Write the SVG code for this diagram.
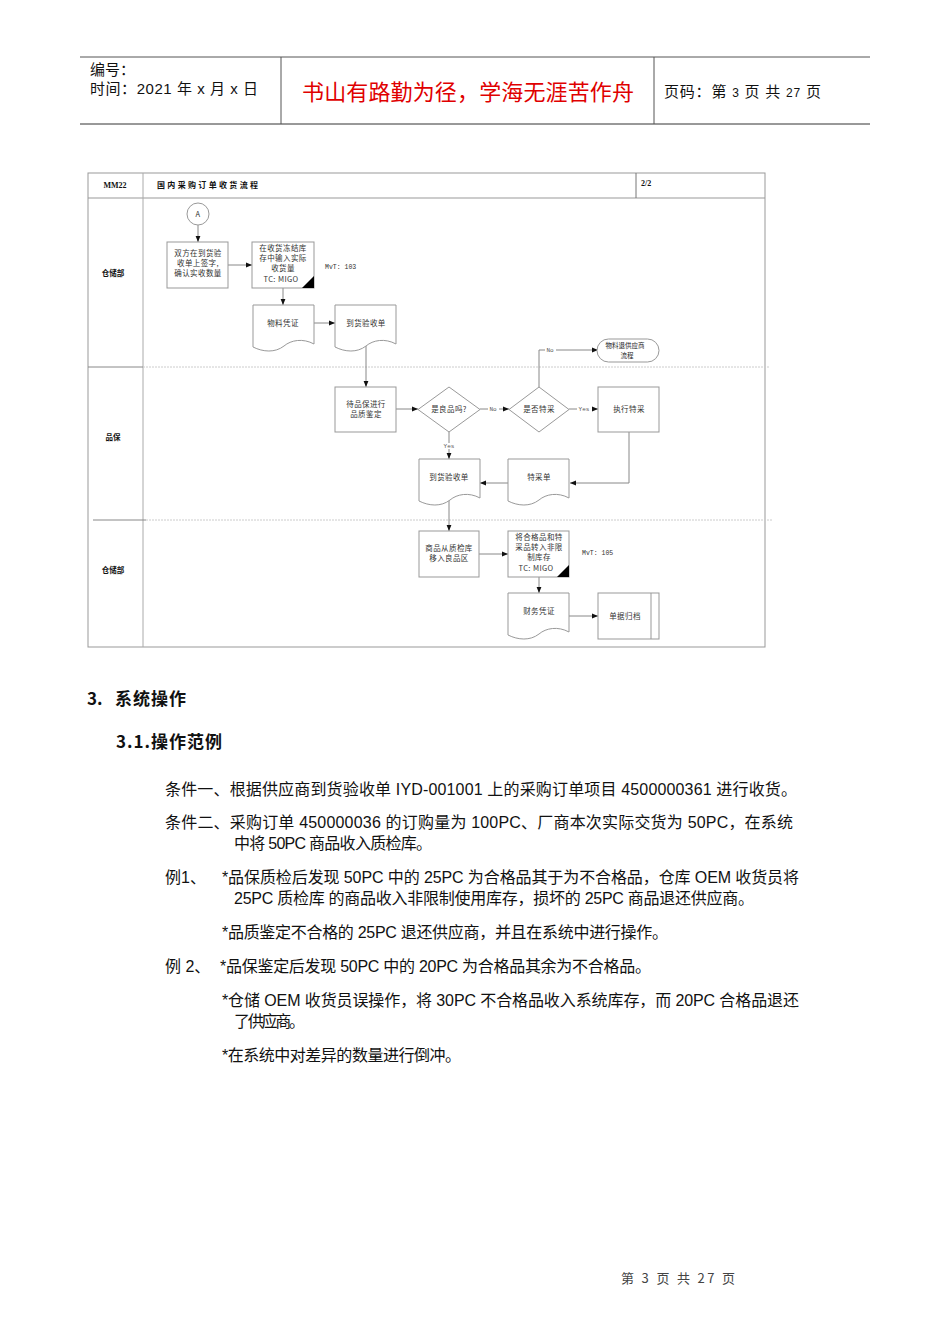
<svg xmlns="http://www.w3.org/2000/svg" width="950" height="1344" viewBox="0 0 950 1344">
<style>
.hdr{font-family:"Liberation Sans","Noto Sans CJK SC",sans-serif;font-size:15px;fill:#111}
.fc{font-family:"Noto Sans CJK SC",sans-serif;font-size:7.5px;letter-spacing:0.4px;fill:#333;text-anchor:middle}
.fcb{font-family:"Noto Sans CJK SC",sans-serif;font-size:7.5px;fill:#111;font-weight:bold;text-anchor:middle}
.lbl{font-family:"Liberation Mono",monospace;font-size:6px;fill:#555;text-anchor:middle}
.box{fill:#fff;stroke:#999;stroke-width:1}
.ln{fill:none;stroke:#888;stroke-width:1}
.body{font-family:"Liberation Sans","Noto Sans CJK SC",sans-serif;font-size:16px;fill:#111}
.h{font-family:"Noto Sans CJK SC",sans-serif;font-size:17px;font-weight:bold;fill:#111}
</style>
<defs>
<marker id="ah" viewBox="0 0 10 10" refX="10" refY="5" markerWidth="6" markerHeight="6" orient="auto" markerUnits="userSpaceOnUse"><path d="M0 1 L10 5 L0 9 Z" fill="#111"/></marker>
<path id="doc" d="M0 0 H61 V39 C50 33 38 35 31 41 C22 48 10 47 0 42 Z" fill="#fff" stroke="#999" stroke-width="1"/>
</defs>
<rect width="950" height="1344" fill="#fff"/>

<g id="page-header">
<line x1="80" y1="57" x2="870" y2="57" stroke="#555" stroke-width="1"/>
<line x1="80" y1="124" x2="870" y2="124" stroke="#333" stroke-width="1"/>
<line x1="281" y1="57" x2="281" y2="124" stroke="#555"/>
<line x1="654" y1="57" x2="654" y2="124" stroke="#555"/>
<text class="hdr" x="90" y="75">编号：</text>
<text class="hdr" x="90" y="94" textLength="168">时间：2021 年 x 月 x 日</text>
<text x="302" y="100" font-family="Noto Sans CJK SC,sans-serif" font-size="22" fill="#e00000" textLength="332">书山有路勤为径，学海无涯苦作舟</text>
<text class="hdr" x="664" y="97" textLength="157">页码：第 <tspan font-size="12">3</tspan> 页  共 <tspan font-size="12">27</tspan> 页</text>
</g>

<g id="frame">
<rect x="88" y="173" width="677" height="474" fill="none" stroke="#999"/>
<line x1="88" y1="198" x2="765" y2="198" stroke="#999"/>
<line x1="143" y1="173" x2="143" y2="647" stroke="#aaa"/>
<line x1="636" y1="173" x2="636" y2="198" stroke="#777"/>
<text x="115" y="188" font-family="Liberation Serif,serif" font-size="8" font-weight="bold" text-anchor="middle" fill="#111">MM22</text>
<text x="157" y="188" font-family="Noto Sans CJK SC,sans-serif" font-size="8" font-weight="bold" fill="#111" textLength="101">国内采购订单收货流程</text>
<text x="641" y="186" font-family="Liberation Serif,serif" font-size="8" font-weight="bold" fill="#111">2/2</text>
<line x1="88" y1="367" x2="143" y2="367" stroke="#888"/>
<line x1="143" y1="367" x2="770" y2="367" stroke="#ccc" stroke-dasharray="2 1"/>
<line x1="93" y1="520" x2="146" y2="520" stroke="#888"/>
<line x1="146" y1="520" x2="773" y2="520" stroke="#ccc" stroke-dasharray="2 1"/>
<text class="fcb" x="113" y="276">仓储部</text>
<text class="fcb" x="113" y="440">品保</text>
<text class="fcb" x="113" y="573">仓储部</text>
</g>

<g id="connectors">
<line class="ln" x1="198" y1="225" x2="198" y2="242" marker-end="url(#ah)"/>
<line class="ln" x1="228" y1="265" x2="252" y2="265" marker-end="url(#ah)"/>
<line class="ln" x1="283" y1="288" x2="283" y2="305" marker-end="url(#ah)"/>
<line class="ln" x1="314" y1="323" x2="335" y2="323" marker-end="url(#ah)"/>
<line class="ln" x1="366" y1="346" x2="366" y2="387" marker-end="url(#ah)"/>
<line class="ln" x1="396" y1="409" x2="418" y2="409" marker-end="url(#ah)"/>
<line class="ln" x1="480" y1="409" x2="509" y2="409" marker-end="url(#ah)"/>
<line class="ln" x1="569" y1="409" x2="598" y2="409" marker-end="url(#ah)"/>
<polyline class="ln" points="539,387 539,350 598,350" marker-end="url(#ah)"/>
<line class="ln" x1="449" y1="432" x2="449" y2="459" marker-end="url(#ah)"/>
<polyline class="ln" points="629,432 629,483 570,483" marker-end="url(#ah)"/>
<line class="ln" x1="508" y1="483" x2="480" y2="483" marker-end="url(#ah)"/>
<line class="ln" x1="449" y1="499" x2="449" y2="531" marker-end="url(#ah)"/>
<line class="ln" x1="479" y1="554" x2="508" y2="554" marker-end="url(#ah)"/>
<line class="ln" x1="539" y1="577" x2="539" y2="593" marker-end="url(#ah)"/>
<line class="ln" x1="569" y1="616" x2="598" y2="616" marker-end="url(#ah)"/>
<rect x="488" y="406" width="11" height="6" fill="#fff"/><text class="lbl" x="493" y="411">No</text>
<rect x="577" y="406" width="15" height="6" fill="#fff"/><text class="lbl" x="584" y="411">Yes</text>
<rect x="545" y="347" width="11" height="6" fill="#fff"/><text class="lbl" x="550" y="352">No</text>
<rect x="442" y="443" width="15" height="6" fill="#fff"/><text class="lbl" x="449" y="448">Yes</text>
</g>

<g id="node-A"><circle cx="198" cy="214" r="11" fill="#fff" stroke="#999"/><text class="fc" x="198" y="217" font-family="Liberation Serif,serif">A</text></g>
<g id="node-sign"><rect class="box" x="167" y="242" width="61" height="46"/>
<text class="fc" x="198" y="256">双方在到货验</text><text class="fc" x="198" y="266">收单上签字,</text><text class="fc" x="198" y="276">确认实收数量</text></g>
<g id="node-input"><rect class="box" x="252" y="242" width="62" height="46"/><path d="M302 288 L314 288 L314 276 Z" fill="#000"/>
<text class="fc" x="283" y="251">在收货冻结库</text><text class="fc" x="283" y="261">存中输入实际</text><text class="fc" x="283" y="271">收货量</text><text class="fc" x="281" y="282" font-family="Liberation Mono,monospace">TC: MIGO</text></g>
<text id="mvt103" x="325" y="269" font-family="Liberation Mono,monospace" font-size="6.5" fill="#333">MvT: 103</text>
<g id="node-matdoc"><use href="#doc" x="253" y="305"/><text class="fc" x="283" y="326">物料凭证</text></g>
<g id="node-grn1"><use href="#doc" x="335" y="305"/><text class="fc" x="366" y="326">到货验收单</text></g>
<g id="node-qc"><rect class="box" x="335" y="387" width="61" height="45"/><text class="fc" x="366" y="407">待品保进行</text><text class="fc" x="366" y="417">品质鉴定</text></g>
<g id="node-good"><path class="box" d="M418 409.5 L449 387 L480 409.5 L449 432 Z"/><text class="fc" x="449" y="412">是良品吗?</text></g>
<g id="node-special"><path class="box" d="M509 409.5 L539 387 L569 409.5 L539 432 Z"/><text class="fc" x="539" y="412">是否特采</text></g>
<g id="node-exec"><rect class="box" x="598" y="387" width="61" height="45"/><text class="fc" x="629" y="412">执行特采</text></g>
<g id="node-return"><rect x="597" y="339" width="62" height="23" rx="11.5" fill="#fff" stroke="#999"/>
<text x="625" y="348" font-family="Noto Sans CJK SC,sans-serif" font-size="6.5" text-anchor="middle" fill="#222">物料退供应商</text><text x="627" y="358" font-family="Noto Sans CJK SC,sans-serif" font-size="6.5" text-anchor="middle" fill="#222">流程</text></g>
<g id="node-grn2"><use href="#doc" x="419" y="459"/><text class="fc" x="449" y="480">到货验收单</text></g>
<g id="node-sform"><use href="#doc" x="508" y="459"/><text class="fc" x="539" y="480">特采单</text></g>
<g id="node-move"><rect class="box" x="419" y="531" width="60" height="46"/><text class="fc" x="449" y="551">商品从质检库</text><text class="fc" x="449" y="561">移入良品区</text></g>
<g id="node-transfer"><rect class="box" x="508" y="531" width="61" height="46"/><path d="M557 577 L569 577 L569 565 Z" fill="#000"/>
<text class="fc" x="539" y="540">将合格品和特</text><text class="fc" x="539" y="550">采品转入非限</text><text class="fc" x="539" y="560">制库存</text><text class="fc" x="536" y="571" font-family="Liberation Mono,monospace">TC: MIGO</text></g>
<text id="mvt105" x="582" y="555" font-family="Liberation Mono,monospace" font-size="6.5" fill="#333">MvT: 105</text>
<g id="node-findoc"><use href="#doc" x="508" y="593"/><text class="fc" x="539" y="614">财务凭证</text></g>
<g id="node-archive"><rect class="box" x="598" y="593" width="61" height="46"/><line x1="651" y1="593" x2="651" y2="639" stroke="#999"/><text class="fc" x="625" y="619">单据归档</text></g>

<g id="body-text">
<text class="h" x="87" y="705">3.</text>
<text class="h" x="115" y="705" textLength="71">系统操作</text>
<text class="h" x="116" y="748" textLength="106">3.1.操作范例</text>
<text class="body" x="165" y="795" textLength="632">条件一、根据供应商到货验收单 IYD-001001 上的采购订单项目 4500000361 进行收货。</text>
<text class="body" x="165" y="828" textLength="628">条件二、采购订单 450000036 的订购量为 100PC、厂商本次实际交货为 50PC，在系统</text>
<text class="body" x="234" y="849" textLength="198">中将 50PC 商品收入质检库。</text>
<text class="body" x="165" y="883">例1、</text>
<text class="body" x="222" y="883" textLength="577">*品保质检后发现 50PC 中的 25PC 为合格品其于为不合格品，仓库 OEM 收货员将</text>
<text class="body" x="234" y="904" textLength="520">25PC 质检库 的商品收入非限制使用库存，损坏的 25PC 商品退还供应商。</text>
<text class="body" x="222" y="938" textLength="446">*品质鉴定不合格的 25PC 退还供应商，并且在系统中进行操作。</text>
<text class="body" x="165" y="972">例 2、</text>
<text class="body" x="220" y="972" textLength="431">*品保鉴定后发现 50PC 中的 20PC 为合格品其余为不合格品。</text>
<text class="body" x="222" y="1006" textLength="577">*仓储 OEM 收货员误操作，将 30PC 不合格品收入系统库存，而 20PC 合格品退还</text>
<text class="body" x="234" y="1027" textLength="71">了供应商。</text>
<text class="body" x="222" y="1061" textLength="239">*在系统中对差异的数量进行倒冲。</text>
</g>

<g id="footer"><text x="621" y="1283" font-family="Noto Sans CJK SC,sans-serif" font-size="13" fill="#444" textLength="114">第 3 页 共 27 页</text></g>
</svg>
